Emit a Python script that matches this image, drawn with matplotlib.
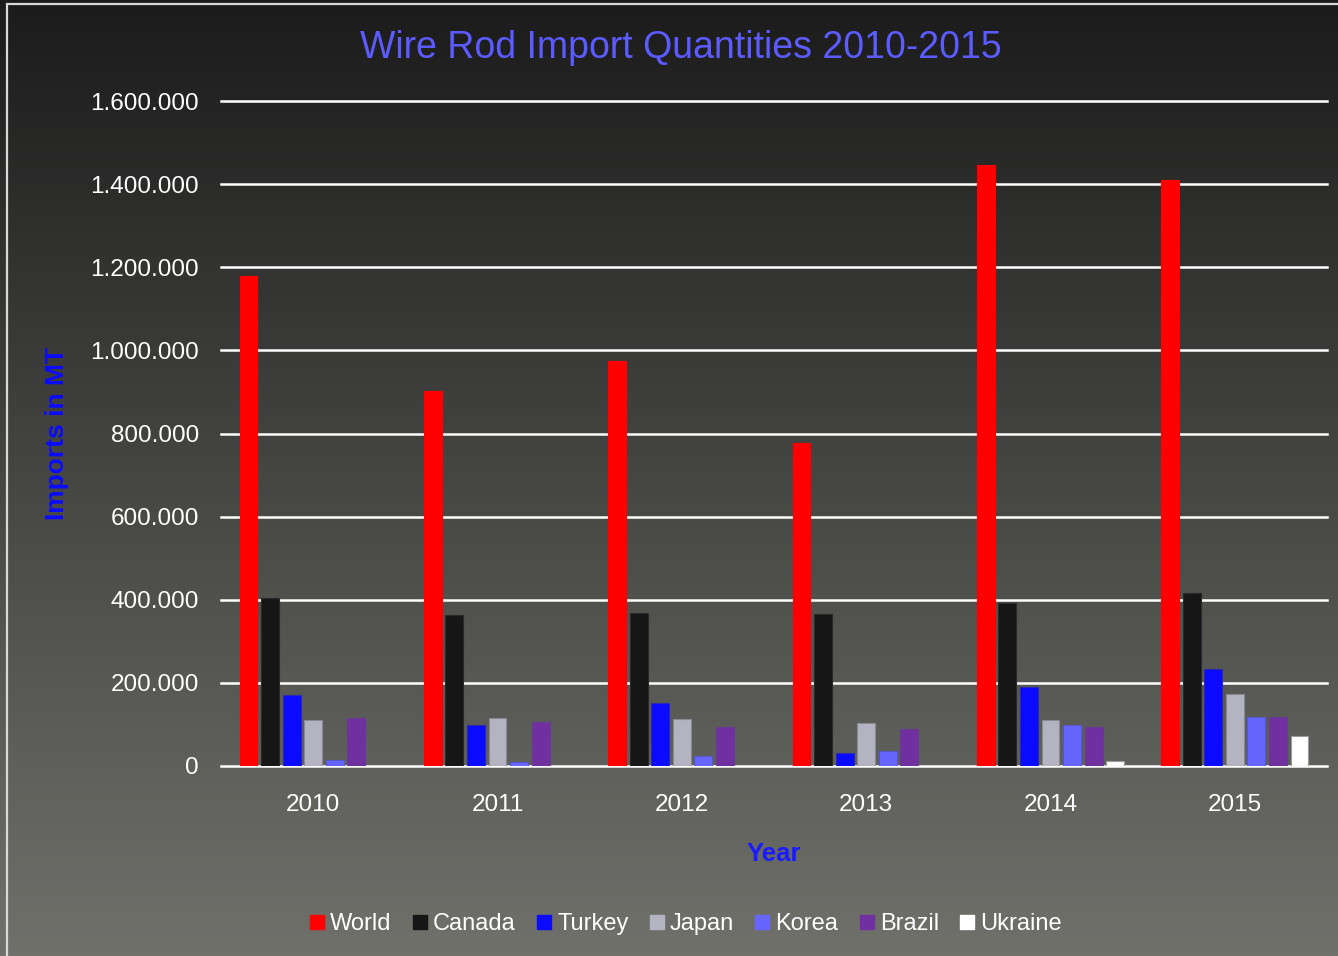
#!/usr/bin/env python
# -*- coding: utf-8 -*-
# Wire rod imports 2010-2015, grouped bars on a dark gradient background

import numpy as np
import matplotlib
matplotlib.use("Agg")
from matplotlib import pyplot as plt
from matplotlib.lines import Line2D
from matplotlib.patches import Rectangle

#--------------------------------- DATA ---------------------------------
years = ["2010", "2011", "2012", "2013", "2014", "2015"]
countries = ["World", "Canada", "Turkey", "Japan", "Korea", "Brazil", "Ukraine"]

world   = [1179000, 902000, 974000, 777000, 1446000, 1410000]
canada  = [405000, 364000, 367000, 366000, 391000, 416000]
turkey  = [170000, 99000, 152000, 31000, 190000, 234000]
japan   = [111000, 115000, 113000, 103000, 111000, 173000]
korea   = [14000, 9000, 24000, 36000, 99000, 117000]
brazil  = [116000, 105000, 94000, 89000, 93000, 117000]
ukraine = [0, 0, 0, 0, 12000, 71000]

yticks = [0, 200000, 400000, 600000, 800000, 1000000, 1200000, 1400000, 1600000]

series = [world, canada, turkey, japan, korea, brazil, ukraine]
colors = ["#ff0000", "#161616", "#0a0aff", "#b4b3c2", "#6666ff", "#7030a0", "#ffffff"]
edges  = ["#ff0000", "#2a2a2a", "#2a2ab0", "#8a8a94", "#5555cc", "#6a3a96", "#9a9a9a"]

#--------------------------------- FIGURE -------------------------------
W, H = 1338, 956
fig = plt.figure(figsize=(W / 100, H / 100), dpi=100)
plt.rcParams["font.family"] = ["Liberation Sans", "DejaVu Sans"]

# gradient background
bg = fig.add_axes([0, 0, 1, 1], zorder=-5)
top = np.array([0x1b, 0x1b, 0x1b]) / 255.
bot = np.array([0x70, 0x71, 0x6b]) / 255.
t = np.linspace(0, 1, 256)[:, None]
grad = (top[None, :] * (1 - t) + bot[None, :] * t)[:, None, :]
bg.imshow(grad, aspect="auto", extent=[0, 1, 0, 1], origin="upper")
bg.set_xlim(0, 1)
bg.set_ylim(0, 1)
bg.axis("off")
# thin frame line top/left
bg.add_patch(Rectangle((7 / W, -0.05), 1.2, 1 - 4 / H + 0.05, fill=False,
                       edgecolor="#d8d8d8", linewidth=1.6, transform=bg.transAxes))

ax = fig.add_axes([221 / W, (H - 766) / H, (1327 - 221) / W, (766 - 101) / H])
ax.patch.set_alpha(0)

x = np.arange(len(years))
pitch = 0.117
width = 0.097
for i, (vals, c, ec, name) in enumerate(zip(series, colors, edges, countries)):
    ax.bar(x + (i - 3) * pitch, vals, width, color=c, edgecolor=ec,
           linewidth=0.8, zorder=3, label=name)

ax.set_xlim(-0.5, len(years) - 0.5)
ax.set_ylim(0, 1600000)
ax.set_yticks(yticks)
ax.set_yticklabels([f"{v:,}".replace(",", ".") for v in yticks])
ax.set_xticks(x)
ax.set_xticklabels(years)
for v in yticks:
    ax.axhline(v, color="white", linewidth=1.8, zorder=2, clip_on=False)

for s in ax.spines.values():
    s.set_visible(False)
ax.tick_params(axis="both", length=0, colors="white", labelsize=17.5)
ax.tick_params(axis="x", pad=20)
ax.tick_params(axis="y", pad=16)

fig.text(681 / W, 1 - 48 / H, "Wire Rod Import Quantities 2010-2015",
         color="#5b5bff", fontsize=27, ha="center", va="center")
fig.text(57 / W, 1 - 434 / H, "Imports in MT", color="#0a0aff",
         fontsize=19, fontweight="bold", rotation=90, ha="center", va="center")
fig.text(774 / W, 1 - 854 / H, "Year", color="#1a1aff",
         fontsize=18.5, fontweight="bold", ha="center", va="center")

handles = [Line2D([], [], linestyle="none", marker="s", markersize=9.5,
                  markerfacecolor=c, markeredgecolor=c) for c in colors]
leg = fig.legend(handles, countries, loc="center", bbox_to_anchor=(686 / W, 1 - 924 / H),
                 ncol=7, frameon=False, fontsize=17, handlelength=0.6,
                 handletextpad=0.25, columnspacing=0.9, borderaxespad=0)
for txt in leg.get_texts():
    txt.set_color("white")

fig.savefig("out.png", dpi=100)
